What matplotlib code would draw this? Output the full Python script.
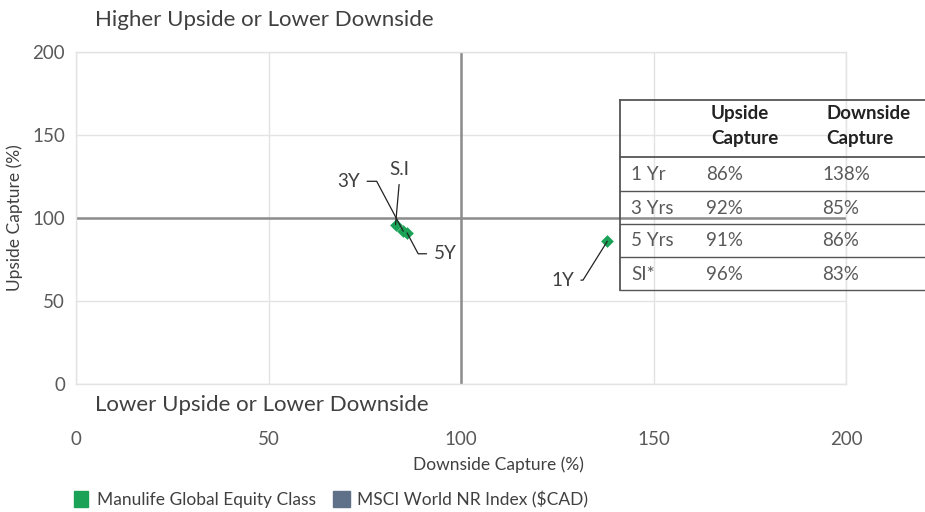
import matplotlib
matplotlib.use("Agg")
import matplotlib.pyplot as plt
from matplotlib.lines import Line2D
from matplotlib.patches import Rectangle

plt.rcParams['font.family'] = ['Lato', 'DejaVu Sans']
plt.rcParams['font.weight'] = 'normal'

# Data
labels = ["1Y", "3Y", "5Y", "S.I"]
downside = [138, 85, 86, 83]
upside = [86, 92, 91, 96]

table_periods = ["1 Yr", "3 Yrs", "5 Yrs", "SI*"]
table_upside = ["86%", "92%", "91%", "96%"]
table_downside = ["138%", "85%", "86%", "83%"]
table_header = ["Upside\nCapture", "Downside\nCapture"]

xticks = [0, 50, 100, 150, 200]
yticks = [0, 50, 100, 150, 200]

legend_labels = ["Manulife Global Equity Class", "MSCI World NR Index ($CAD)"]
fund_color = "#1aa356"
index_color = "#5f7189"
text_color = "#404040"
tick_color = "#595959"

W, H = 925, 512
fig = plt.figure(figsize=(W / 100, H / 100), dpi=100)
L, R, B, T = 76, 846, 384, 52
ax = fig.add_axes([L / W, 1 - B / H, (R - L) / W, (B - T) / H])
ax.set_xlim(0, 200)
ax.set_ylim(0, 200)
ax.set_xticks(xticks)
ax.set_yticks(yticks)
ax.grid(True, color="#e3e3e3", linewidth=1)
for s in ax.spines.values():
    s.set_color("#e3e3e3")
    s.set_linewidth(1)
ax.tick_params(length=0, labelsize=13.5, colors=tick_color)
ax.tick_params(axis='x', pad=34)
ax.tick_params(axis='y', pad=8)
ax.set_axisbelow(True)

# quadrant lines
ax.axhline(100, color="#8c8c8c", linewidth=1.8, zorder=2)
ax.axvline(100, color="#8c8c8c", linewidth=1.8, zorder=2)

ax.set_xlabel("Downside Capture (%)", fontsize=12.5, color=text_color)
ax.xaxis.set_label_coords((498 - L) / (R - L), -(465 - B) / (B - T))
ax.xaxis.label.set_va("center")
ax.set_ylabel("Upside Capture (%)", fontsize=12.5, color=text_color)
ax.yaxis.set_label_coords(-(L - 15) / (R - L), 0.5)
ax.yaxis.label.set_va("center")

ax.scatter(downside, upside, marker="D", s=42, color=fund_color, zorder=4, linewidths=0)

# leader labels
ann = {
    "1Y": dict(off=(-24, -28), ha="right", angleB=58, relpos=(1, 0.5)),
    "3Y": dict(off=(-31, 36), ha="right", angleB=-62, relpos=(1, 0.5)),
    "5Y": dict(off=(19, -15), ha="left", angleB=-62, relpos=(0, 0.5)),
    "S.I": dict(off=(3, 40), ha="center", angleB=87, relpos=(0.5, 0)),
}
for lab, x, y in zip(labels, downside, upside):
    a = ann[lab]
    if lab == "S.I":
        cs = "arc3,rad=0"
    else:
        cs = "angle,angleA=0,angleB=%d,rad=0" % a["angleB"]
    ax.annotate(lab, xy=(x, y), xytext=a["off"], textcoords="offset points",
                ha=a["ha"], va="center", fontsize=13.5, color=text_color,
                arrowprops=dict(arrowstyle="-", color="#222222", lw=0.9,
                                connectionstyle=cs, shrinkA=3, shrinkB=0,
                                relpos=a["relpos"]), zorder=5)

# quadrant texts
fig.text(95 / W, 1 - 20 / H, "Higher Upside or Lower Downside", fontsize=16,
         color=text_color, ha="left", va="center")
fig.text(95 / W, 1 - 405 / H, "Lower Upside or Lower Downside", fontsize=16,
         color=text_color, ha="left", va="center")

# table (figure pixel coords)
def px(x, y):
    return x / W, 1 - y / H

tl = 620
row_lines = [100, 157, 191, 224, 257, 290]
for i, yy in enumerate(row_lines):
    fig.add_artist(Line2D([px(tl, yy)[0], 1.0], [px(tl, yy)[1]] * 2,
                          color="#555555", lw=1.3 if i < 2 else 1.0))
fig.add_artist(Line2D([px(tl, 0)[0]] * 2, [px(0, 100)[1], px(0, 290)[1]],
                      color="#555555", lw=1.3))
col_x = [631, 706, 822]
hx = [711, 826]
for hxx, htxt in zip(hx, table_header):
    fig.text(*px(hxx, 126), htxt, fontsize=13.5, fontweight="bold",
             color="#222222", ha="left", va="center", linespacing=1.55)
row_centers = [174, 208, 241, 274]
for yc, p, u, d in zip(row_centers, table_periods, table_upside, table_downside):
    fig.text(*px(col_x[0], yc), p, fontsize=13.5, color=tick_color, ha="left", va="center")
    fig.text(*px(col_x[1], yc), u, fontsize=13.5, color=tick_color, ha="left", va="center")
    fig.text(*px(col_x[2], yc), d, fontsize=13.5, color=tick_color, ha="left", va="center")

# legend
fig.add_artist(Rectangle(px(74, 507), 14 / W, 16 / H, color=fund_color))
fig.text(*px(97, 500), legend_labels[0], fontsize=12.5, color=text_color, ha="left", va="center")
fig.add_artist(Rectangle(px(333, 507), 17 / W, 16 / H, color=index_color))
fig.text(*px(357, 500), legend_labels[1], fontsize=12.5, color=text_color, ha="left", va="center")

fig.savefig("out.png", dpi=100)
